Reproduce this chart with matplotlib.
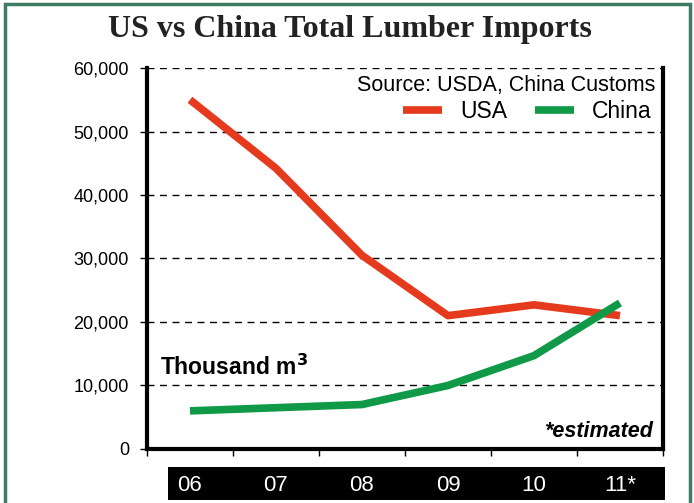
import matplotlib
matplotlib.use('Agg')
import matplotlib.pyplot as plt
from matplotlib.patches import Rectangle
from matplotlib.ticker import FuncFormatter

# chart data (thousand m3)
years = ['06', '07', '08', '09', '10', '11*']
usa = [55000, 44200, 30500, 21000, 22700, 21000]
china = [6000, 6500, 7000, 10000, 14700, 23000]
y_ticks = [0, 10000, 20000, 30000, 40000, 50000, 60000]

plt.rcParams['font.family'] = ['Liberation Sans', 'DejaVu Sans']

fig = plt.figure(figsize=(6.94, 5.03), dpi=100)
ax = fig.add_axes([0.2118, 0.1074, 0.7435, 0.7574])

x = list(range(len(years)))
ax.plot(x, usa, color='#e63a1e', lw=5.5, solid_capstyle='butt', label='USA', zorder=3)
ax.plot(x, china, color='#109a47', lw=5.5, solid_capstyle='butt', label='China', zorder=3)

ax.set_xlim(-0.5, len(years) - 0.5)
ax.set_ylim(0, 60000)

# y axis
ax.set_yticks(y_ticks)
ax.yaxis.set_major_formatter(FuncFormatter(lambda v, p: '0' if v == 0 else f'{int(v):,}'))
ax.tick_params(axis='y', direction='out', length=5, width=1, labelsize=13, pad=8)
for v in y_ticks[1:]:
    ax.axhline(v, color='black', lw=1, ls=(0, (5, 4)), zorder=1)

# x axis: ticks on the boundaries, labels in the middle
ax.set_xticks([i - 0.5 for i in range(len(years) + 1)])
ax.set_xticklabels([])
ax.set_xticks(x, minor=True)
ax.set_xticklabels(years, minor=True)
ax.tick_params(axis='x', which='major', direction='out', length=5, width=1)
ax.tick_params(axis='x', which='minor', length=0, labelsize=16, labelcolor='white', pad=19)

ax.spines['top'].set_visible(False)
for s in ['left', 'right', 'bottom']:
    ax.spines[s].set_linewidth(3)

# black strip behind the year labels
fig.patches.append(Rectangle((0.242, 0.006), 0.716, 0.066, transform=fig.transFigure,
                             facecolor='black', edgecolor='none', zorder=-1))
# green frame
fig.patches.append(Rectangle((0.007, -0.02), 0.987, 1.013, transform=fig.transFigure,
                             fill=False, edgecolor='#3f7d63', lw=2.5, zorder=5))

fig.text(0.504, 0.942, 'US vs China Total Lumber Imports', ha='center', va='center',
         family='Liberation Serif', fontweight='bold', fontsize=23, color='#222222')

ax.text(0.985, 0.955, 'Source: USDA, China Customs', transform=ax.transAxes,
        ha='right', va='center', fontsize=15.5)
ax.legend(loc='center right', bbox_to_anchor=(0.978, 0.885), ncol=2, frameon=False,
          fontsize=16.5, handlelength=1.7, handletextpad=0.8, columnspacing=1.2,
          borderpad=0, borderaxespad=0)

ax.text(0.025, 0.215, 'Thousand m$^\\mathbf{3}$', transform=ax.transAxes,
        ha='left', va='center', fontsize=16.5, fontweight='bold')
ax.text(0.98, 0.045, '*estimated', transform=ax.transAxes, ha='right', va='center',
        fontsize=15.5, fontweight='bold', style='italic')

fig.savefig('out.png', dpi=100)
